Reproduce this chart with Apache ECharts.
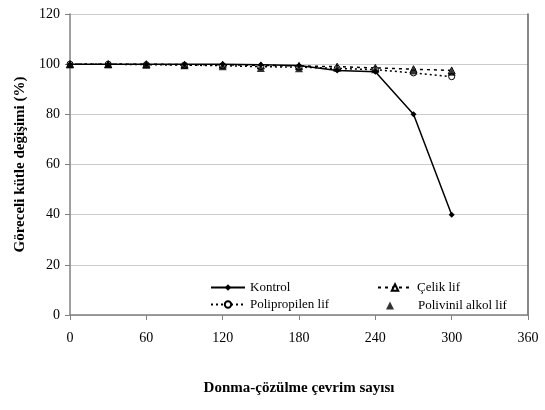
<!DOCTYPE html>
<html>
<head>
<meta charset="utf-8">
<script src="https://cdn.jsdelivr.net/npm/echarts@6/dist/echarts.min.js"></script>
<style>
  html, body { margin: 0; padding: 0; background: #fff; }
  #chart { width: 545px; height: 410px; }
</style>
</head>
<body>
<div id="chart"></div>
<script>
const cycles = [0, 30, 60, 90, 120, 150, 180, 210, 240, 270, 300];
const kontrol = [100, 100, 100, 100, 100, 99.8, 99.5, 97.5, 97, 80, 40];
const celik = [100, 100, 100, 99.8, 99.8, 99.5, 99.3, 99, 98.5, 98, 97.5];
const polipropilen = [100, 100, 99.8, 99.6, 99.4, 99, 98.8, 98.3, 97.8, 96.5, 95];
const polivinil = [100, 100, 99.8, 99.6, 99.2, 98.5, 98.4, 98.6, 98, 97.5, 97];

const pairs = vals => cycles.map((c, i) => [c, vals[i]]);
const font = 'Liberation Serif';
const legendText = { fontFamily: font, fontSize: 13, color: '#000' };

const chart = echarts.init(document.getElementById('chart'));

const option = {
  animation: false,
  textStyle: { fontFamily: font, color: '#000' },
  grid: { left: 70, right: 17, top: 14, bottom: 95 },
  legend: [
    {
      orient: 'vertical',
      left: 205,
      top: 276,
      itemGap: 4,
      itemWidth: 34,
      itemHeight: 8,
      textStyle: legendText,
      data: ['Kontrol', 'Polipropilen lif']
    },
    {
      left: 372,
      top: 276,
      itemWidth: 34,
      itemHeight: 8,
      textStyle: legendText,
      data: ['Çelik lif']
    },
    {
      left: 381,
      top: 294,
      itemWidth: 8,
      itemHeight: 8,
      textStyle: Object.assign({ padding: [0, 0, 0, 19] }, legendText),
      data: [{ name: 'Polivinil alkol lif', icon: 'triangle' }]
    }
  ],
  xAxis: {
    type: 'value',
    min: 0,
    max: 360,
    interval: 60,
    name: 'Donma-çözülme çevrim sayısı',
    nameLocation: 'middle',
    nameGap: 66,
    nameTextStyle: { fontFamily: font, fontSize: 15, fontWeight: 'bold', color: '#000' },
    axisLine: { lineStyle: { color: '#808080', width: 1.5 } },
    axisTick: { length: 5, lineStyle: { color: '#808080' } },
    axisLabel: { fontFamily: font, fontSize: 14, color: '#000', margin: 16 },
    splitLine: { show: false }
  },
  yAxis: [
    {
      type: 'value',
      min: 0,
      max: 120,
      interval: 20,
      name: 'Göreceli kütle değişimi (%)',
      nameLocation: 'middle',
      nameGap: 42,
      nameTextStyle: { fontFamily: font, fontSize: 15, fontWeight: 'bold', color: '#000' },
      axisLine: { show: true, lineStyle: { color: '#808080', width: 1.5 } },
      axisTick: { show: true, length: 5, lineStyle: { color: '#808080' } },
      axisLabel: { fontFamily: font, fontSize: 14, color: '#000', margin: 10 },
      splitLine: { show: true, lineStyle: { color: '#cccccc', width: 1 } }
    },
    {
      type: 'value',
      position: 'right',
      min: 0,
      max: 120,
      interval: 20,
      axisLine: { show: true, lineStyle: { color: '#606060', width: 1.5 } },
      axisTick: { show: false },
      axisLabel: { show: false },
      splitLine: { show: false }
    }
  ],
  series: [
    {
      name: 'Kontrol',
      type: 'line',
      data: pairs(kontrol),
      symbol: 'diamond',
      symbolSize: 6,
      itemStyle: { color: '#000' },
      lineStyle: { color: '#000', width: 1.5 },
      z: 5
    },
    {
      name: 'Çelik lif',
      type: 'line',
      data: pairs(celik),
      symbol: 'triangle',
      symbolSize: 7,
      itemStyle: { color: '#fff', borderColor: '#000', borderWidth: 1 },
      lineStyle: { color: '#000', width: 1.5, type: [3, 4] },
      z: 3
    },
    {
      name: 'Polipropilen lif',
      type: 'line',
      data: pairs(polipropilen),
      symbol: 'circle',
      symbolSize: 6,
      itemStyle: { color: '#fff', borderColor: '#000', borderWidth: 1 },
      lineStyle: { color: '#000', width: 1.5, type: [2, 3] },
      z: 3
    },
    {
      name: 'Polivinil alkol lif',
      type: 'scatter',
      data: pairs(polivinil),
      symbol: 'triangle',
      symbolSize: 8,
      itemStyle: { color: '#000' },
      z: 6
    }
  ]
};

chart.setOption(option);
</script>
</body>
</html>
